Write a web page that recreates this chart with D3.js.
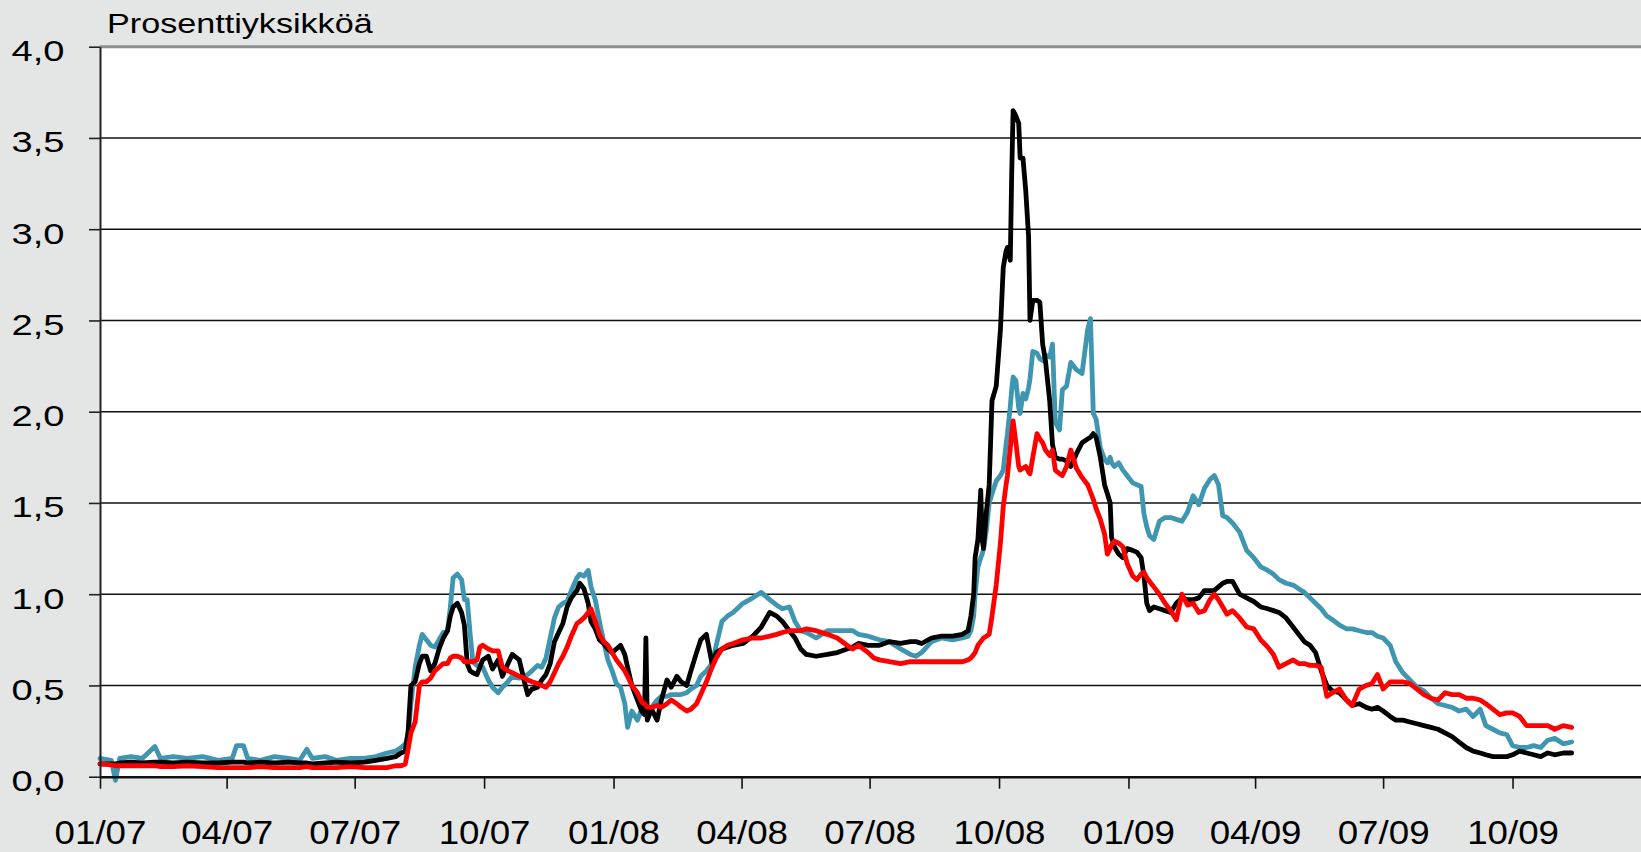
<!DOCTYPE html>
<html>
<head>
<meta charset="utf-8">
<script src="https://cdn.jsdelivr.net/npm/d3@7"></script>
<style>
  html, body { margin: 0; padding: 0; background: #e4e6e5; }
  svg { display: block; }
  text { font-family: "Liberation Sans", Arial, sans-serif; fill: #000; }
</style>
</head>
<body>
<svg id="chart" width="1641" height="852"></svg>
<script>
// observation dates (shared by the three series)
const dates = [
  "2007-01-01","2007-01-09","2007-01-12","2007-01-15","2007-01-23","2007-01-31","2007-02-09","2007-02-13","2007-02-22","2007-03-04",
  "2007-03-15","2007-03-26","2007-04-05","2007-04-08","2007-04-13","2007-04-16","2007-04-25","2007-05-05","2007-05-15","2007-05-23",
  "2007-05-28","2007-06-01","2007-06-10","2007-06-18","2007-06-28","2007-07-08","2007-07-16","2007-07-24","2007-07-30","2007-08-03",
  "2007-08-06",
  "2007-08-08","2007-08-10","2007-08-13","2007-08-16","2007-08-18","2007-08-21","2007-08-24","2007-08-27","2007-08-30","2007-09-02",
  "2007-09-05","2007-09-07","2007-09-09","2007-09-12","2007-09-15","2007-09-17","2007-09-19","2007-09-21","2007-09-23","2007-09-26",
  "2007-09-28","2007-09-30","2007-10-04","2007-10-07","2007-10-11","2007-10-14","2007-10-18","2007-10-21","2007-10-26","2007-10-30",
  "2007-11-01","2007-11-04","2007-11-08","2007-11-11","2007-11-14","2007-11-17","2007-11-20","2007-11-23","2007-11-26","2007-11-29",
  "2007-12-02","2007-12-06","2007-12-08","2007-12-11","2007-12-14","2007-12-16","2007-12-19","2007-12-22","2007-12-25","2007-12-28",
  "2007-12-31","2008-01-03","2008-01-06","2008-01-09","2008-01-11","2008-01-14","2008-01-18","2008-01-21","2008-01-23","2008-01-24",
  "2008-01-25","2008-01-28","2008-02-01","2008-02-04","2008-02-08","2008-02-11","2008-02-15",
  "2008-02-18","2008-02-22","2008-02-25","2008-02-29","2008-03-03","2008-03-07","2008-03-11","2008-03-14","2008-03-18","2008-03-22",
  "2008-03-26","2008-04-02","2008-04-09","2008-04-15","2008-04-21","2008-04-26","2008-04-30","2008-05-05","2008-05-09","2008-05-13",
  "2008-05-17","2008-05-24","2008-06-01","2008-06-08","2008-06-15","2008-06-19","2008-06-23","2008-06-30","2008-07-04","2008-07-08",
  "2008-07-15","2008-07-23","2008-07-30","2008-08-03","2008-08-07","2008-08-14","2008-08-21","2008-08-29","2008-09-05","2008-09-09",
  "2008-09-11","2008-09-13","2008-09-14","2008-09-16","2008-09-18","2008-09-19","2008-09-20","2008-09-22","2008-09-24","2008-09-26",
  "2008-09-29","2008-10-02","2008-10-04","2008-10-06","2008-10-07","2008-10-09","2008-10-10","2008-10-11","2008-10-13","2008-10-15",
  "2008-10-16","2008-10-18","2008-10-20","2008-10-22","2008-10-23","2008-10-25","2008-10-28","2008-10-30","2008-11-01","2008-11-03",
  "2008-11-06","2008-11-08","2008-11-10","2008-11-13","2008-11-15","2008-11-18","2008-11-21","2008-11-25","2008-11-29","2008-12-03",
  "2008-12-05","2008-12-07","2008-12-09","2008-12-12","2008-12-15","2008-12-17","2008-12-19","2008-12-20","2008-12-22","2008-12-25",
  "2008-12-28","2008-12-31","2009-01-04","2009-01-07","2009-01-10","2009-01-12","2009-01-14","2009-01-16","2009-01-19","2009-01-23",
  "2009-01-27","2009-01-31","2009-02-04","2009-02-08","2009-02-12","2009-02-16","2009-02-20","2009-02-24","2009-02-28","2009-03-03",
  "2009-03-06","2009-03-09","2009-03-12","2009-03-16","2009-03-21","2009-03-26","2009-03-31","2009-04-05","2009-04-10","2009-04-14",
  "2009-04-18","2009-04-23","2009-04-28","2009-05-02","2009-05-06","2009-05-10","2009-05-14","2009-05-18","2009-05-22","2009-05-26",
  "2009-05-31","2009-06-05","2009-06-09","2009-06-14","2009-06-19","2009-06-23","2009-06-27","2009-07-01","2009-07-06","2009-07-10",
  "2009-07-15","2009-07-20","2009-07-25","2009-07-30","2009-08-04","2009-08-09","2009-08-14","2009-08-19","2009-08-24","2009-08-29",
  "2009-09-03","2009-09-08","2009-09-12","2009-09-17","2009-09-22","2009-09-27","2009-10-01","2009-10-06","2009-10-11","2009-10-16",
  "2009-10-21","2009-10-26","2009-10-31","2009-11-06","2009-11-12"
];

// black series
const spreadBlack = [
  .07,.07,.07,.075,.08,.075,.08,.08,.075,.08, .075,.075,.08,.08,.08,.075,.08,.075,.08,.075,
  .075,.07,.075,.08,.075,.08,.09,.10,.11,.13, .14,
  .25,.50,.52,.62,.66,.66,.58,.62,.70,.76, .80,.88,.93,.95,.90,.83,.62,.58,.57,.56,
  .60,.64,.66,.59,.64,.55,.62,.67,.64,.51, .45,.48,.49,.53,.56,.62,.74,.79,.84,.93,
  .98,1.02,1.06,1.03,.95,.85,.81,.75,.73,.70, .68,.70,.72,.67,.60,.50,.42,.36,.34,.76,
  .31,.37,.31,.42,.53,.49,.55,
  .52,.50,.58,.68,.75,.78,.62,.68,.70,.71, .72,.73,.77,.82,.90,.88,.85,.80,.76,.70,
  .67,.66,.67,.68,.70,.71,.73,.72,.72,.72, .74,.73,.74,.74,.73,.76,.77,.77,.78,.80,
  .88,1.0,1.2,1.3,1.57,1.3,1.25,1.45,1.6,2.06,
  2.14,2.45,2.79,2.88,2.90,2.83,3.30,3.65,3.62,3.58, 3.39,3.39,3.21,2.96,2.50,2.61,2.61,2.60,2.37,2.28,
  2.06,1.82,1.75,1.74,1.74,1.73,1.70,1.77,1.83,1.85, 1.86,1.88,1.86,1.75,1.60,1.55,1.50,1.31,1.26,1.22,
  1.20,1.25,1.24,1.23,1.20,1.10,.95,.91,.93,.92, .91,.90,.95,.98,.97,.97,.98,1.02,1.02,1.02,
  1.04,1.06,1.07,1.07,1.00,.98,.96,.93,.92,.91, .90,.87,.82,.78,.74,.72,.68,.58,.50,.47,
  .46,.42,.39,.40,.38,.37,.38,.36,.33,.31, .31,.30,.29,.28,.27,.26,.24,.22,.19,.16,
  .14,.13,.12,.11,.11,.11,.12,.14,.13,.12, .11,.13,.12,.13,.13
];

// teal series
const spreadTeal = [
  .10,.09,-.02,.10,.11,.10,.165,.10,.11,.10, .11,.09,.10,.17,.17,.10,.09,.11,.10,.09,
  .15,.10,.11,.09,.10,.10,.11,.13,.14,.16, .18,
  .22,.40,.60,.72,.78,.75,.72,.71,.75,.79, .80,.93,1.09,1.11,1.08,.97,.97,.79,.63,.61,
  .60,.60,.53,.49,.46,.49,.52,.55,.54,.55, .56,.58,.61,.60,.65,.76,.87,.93,.95,.96,
  1.02,1.09,1.11,1.10,1.13,1.04,.97,.85,.74,.64, .58,.51,.49,.40,.27,.36,.31,.37,.38,.38,
  .37,.38,.42,.44,.44,.45,.45,
  .45,.46,.48,.50,.55,.58,.62,.72,.85,.88, .90,.95,.98,1.01,.97,.94,.92,.93,.85,.80,
  .79,.76,.80,.80,.80,.80,.78,.77,.76,.75, .74,.70,.67,.66,.68,.74,.76,.75,.76,.77,
  .80,.88,1.0,1.15,1.2,1.22,1.25,1.35,1.5,1.55,
  1.62,1.65,1.68,1.82,1.88,2.03,2.12,2.19,2.17,2.02, 1.99,2.10,2.07,2.13,2.18,2.33,2.32,2.29,2.28,2.31,
  2.30,2.37,1.94,1.90,2.12,2.14,2.27,2.23,2.21,2.45, 2.51,1.99,1.96,1.80,1.74,1.72,1.75,1.72,1.70,1.72,
  1.68,1.65,1.61,1.60,1.59,1.44,1.37,1.32,1.30,1.40, 1.42,1.42,1.41,1.40,1.45,1.54,1.49,1.58,1.63,1.65,
  1.60,1.43,1.42,1.39,1.34,1.24,1.20,1.15,1.13,1.11, 1.08,1.06,1.05,1.03,1.01,.98,.95,.92,.88,.86,
  .83,.81,.81,.80,.79,.79,.77,.76,.72,.63, .57,.53,.49,.47,.43,.40,.39,.38,.36,.37,
  .33,.37,.28,.26,.24,.23,.17,.16,.16,.17, .16,.20,.21,.18,.19
];

// red series
const spreadRed = [
  .07,.065,.06,.06,.06,.06,.06,.055,.055,.06, .055,.05,.05,.05,.05,.05,.055,.05,.05,.05,
  .055,.05,.05,.05,.055,.05,.05,.05,.06,.06, .07,
  .15,.24,.30,.50,.52,.52,.54,.58,.60,.62, .62,.65,.66,.66,.65,.63,.63,.63,.63,.64,
  .71,.72,.70,.69,.69,.60,.58,.57,.55,.54, .53,.52,.51,.50,.49,.52,.57,.62,.66,.71,
  .77,.84,.85,.87,.90,.92,.85,.78,.74,.72, .68,.64,.61,.58,.55,.50,.46,.41,.40,.39,
  .38,.38,.39,.38,.40,.42,.40,
  .38,.36,.37,.40,.45,.52,.60,.65,.70,.72, .73,.75,.76,.76,.77,.78,.79,.80,.80,.80,
  .81,.80,.78,.76,.72,.70,.72,.68,.65,.64, .63,.62,.63,.63,.63,.63,.63,.63,.63,.64,
  .65,.67,.68,.72,.74,.75,.76,.77,.78,.88,
  1.05,1.28,1.48,1.60,1.65,1.80,1.88,1.95,1.83,1.70, 1.68,1.69,1.70,1.67,1.66,1.75,1.88,1.85,1.83,1.79,
  1.76,1.79,1.68,1.66,1.65,1.70,1.79,1.69,1.64,1.60, 1.56,1.52,1.47,1.41,1.33,1.22,1.25,1.27,1.29,1.28,
  1.26,1.17,1.10,1.08,1.11,1.12,1.09,1.07,1.04,1.00, .95,.91,.86,1.00,.94,.95,.90,.91,.97,1.00,
  .97,.93,.89,.91,.87,.82,.81,.75,.71,.67, .60,.62,.64,.62,.62,.61,.61,.60,.44,.46,
  .48,.42,.39,.48,.50,.51,.56,.48,.52,.52, .52,.51,.48,.45,.43,.42,.46,.45,.45,.43,
  .43,.42,.40,.37,.34,.35,.35,.33,.28,.28, .28,.28,.26,.28,.27
];

const xDomain = ["2007-01-01", "2010-01-01"];
const xTicks = ["2007-01-01","2007-04-01","2007-07-01","2007-10-01","2008-01-01","2008-04-01",
                "2008-07-01","2008-10-01","2009-01-01","2009-04-01","2009-07-01","2009-10-01"];
const yTicks = [0, 0.5, 1, 1.5, 2, 2.5, 3, 3.5, 4];
const yTitle = "Prosenttiyksikköä";

const W = 1641, H = 852;
const plotLeft = 100, plotTop = 46.7, plotBottom = 776.7;

const parseDate = d3.timeParse("%Y-%m-%d");
const time = dates.map(parseDate);

const x = d3.scaleTime()
  .domain(xDomain.map(parseDate))
  .range([plotLeft, 1642]);

const y = d3.scaleLinear()
  .domain([0, 4])
  .range([plotBottom, plotTop]);

const svg = d3.select("#chart");

svg.append("rect")
  .attr("width", W).attr("height", H)
  .attr("fill", "#e4e6e5");

// white plot area
svg.append("rect")
  .attr("x", plotLeft).attr("y", plotTop)
  .attr("width", W - plotLeft).attr("height", plotBottom - plotTop)
  .attr("fill", "#ffffff");

// horizontal grid lines
svg.append("g")
  .selectAll("line")
  .data(yTicks.filter(v => v > 0 && v < 4))
  .join("line")
  .attr("x1", plotLeft).attr("x2", W)
  .attr("y1", d => y(d)).attr("y2", d => y(d))
  .attr("stroke", "#111")
  .attr("stroke-width", 1.6);

// grey top border
svg.append("line")
  .attr("x1", plotLeft).attr("x2", W)
  .attr("y1", y(4)).attr("y2", y(4))
  .attr("stroke", "#8c8c8c")
  .attr("stroke-width", 3);

// lines
const lineGen = d3.line()
  .x((d, i) => x(time[i]))
  .y(d => y(d));

const series = [
  { values: spreadTeal, color: "#3f96b1" },
  { values: spreadBlack, color: "#000000" },
  { values: spreadRed, color: "#ff0000" }
];

svg.append("g")
  .selectAll("path")
  .data(series)
  .join("path")
  .attr("d", d => lineGen(d.values))
  .attr("fill", "none")
  .attr("stroke", d => d.color)
  .attr("stroke-width", 4.8)
  .attr("stroke-linejoin", "round")
  .attr("stroke-linecap", "round");

// y axis
const fmt = v => d3.format(".1f")(v).replace(".", ",");
svg.append("g")
  .attr("transform", `translate(${plotLeft},0)`)
  .call(d3.axisLeft(y).tickValues(yTicks).tickFormat(fmt).tickSize(11).tickSizeOuter(0))
  .call(g => g.select(".domain").attr("stroke", "#222").attr("stroke-width", 2))
  .call(g => g.selectAll(".tick line").attr("stroke", "#222").attr("stroke-width", 1.6))
  .call(g => g.selectAll(".tick text")
    .attr("x", -28)
    .attr("dy", null)
    .attr("y", 14)
    .attr("transform", "scale(1.27,1)")
    .style("font-size", "30px")
    .style("font-family", '"Liberation Sans", Arial, sans-serif')
    .attr("fill", "#000"));

// x axis
svg.append("g")
  .attr("transform", `translate(0,${plotBottom})`)
  .call(d3.axisBottom(x).tickValues(xTicks.map(parseDate))
    .tickFormat(d3.timeFormat("%m/%y")).tickSize(12).tickSizeOuter(0))
  .call(g => g.select(".domain").attr("stroke", "#111").attr("stroke-width", 2.4))
  .call(g => g.selectAll(".tick line").attr("stroke", "#111").attr("stroke-width", 1.6))
  .call(g => g.selectAll(".tick text")
    .attr("dy", null)
    .attr("y", 67)
    .attr("transform", "scale(1.08,1)")
    .style("font-size", "34px")
    .style("font-family", '"Liberation Sans", Arial, sans-serif')
    .attr("fill", "#000"));

// unit label
svg.append("text")
  .attr("transform", "translate(107,33) scale(1.22,1)")
  .style("font-size", "28px")
  .text(yTitle);
</script>
</body>
</html>
